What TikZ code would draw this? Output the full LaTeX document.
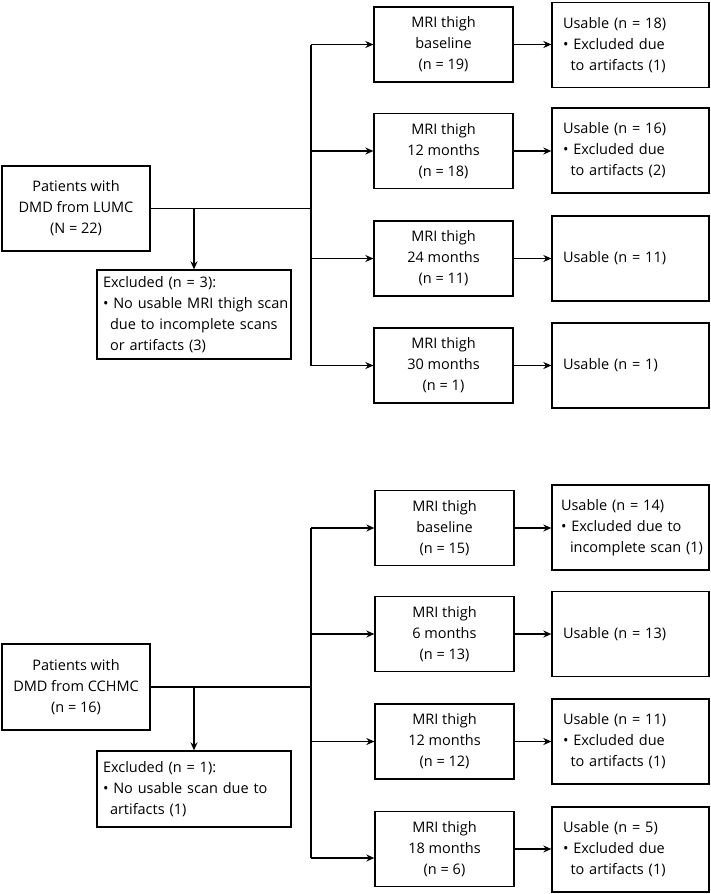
\documentclass[tikz,border=0pt]{standalone}
\usepackage{fontspec}
\setmainfont{Open Sans}
\usetikzlibrary{arrows.meta}

\begin{document}
\begin{tikzpicture}[x=1pt, y=-1pt, line width=1.3pt,
        font=\fontsize{14.5}{21}\selectfont,
        box/.style={draw, inner ysep=0pt},
        src/.style={box, align=center, minimum width=148pt, minimum height=85pt},
        mri/.style={box, align=center, minimum width=139pt, minimum height=75pt},
        use/.style={box, inner xsep=11pt, text width=135pt, align=left, minimum height=85pt},
        excl/.style={box, inner xsep=6pt, text width=182pt, align=left},
        arr/.style={-{Stealth[length=8pt, width=7pt]}}]
        \useasboundingbox (0,0) rectangle (711,894);
        % LUMC
        \node[src] (lumc) at (76,208.5) {Patients with\\DMD from LUMC\\(N = 22)};
        \node[excl, minimum height=89pt] (ex1) at (194,314.5) {Excluded (n = 3):\\\mbox{\textbullet\ No usable MRI thigh scan}\\\hspace*{7pt}due to incomplete scans\\\hspace*{7pt}or artifacts (3)};
        \node[mri] (m1) at (443.5,44.5) {MRI thigh\\baseline\\(n = 19)};
        \node[mri] (m2) at (443.5,151) {MRI thigh\\12 months\\(n = 18)};
        \node[mri] (m3) at (443.5,258.5) {MRI thigh\\24 months\\(n = 11)};
        \node[mri] (m4) at (443.5,365.5) {MRI thigh\\30 months\\(n = 1)};
        \node[use] (u1) at (630.5,45) {Usable (n = 18)\\\textbullet\ Excluded due\\\hspace*{7.5pt}to artifacts (1)};
        \node[use] (u2) at (630.5,150.5) {Usable (n = 16)\\\textbullet\ Excluded due\\\hspace*{7.5pt}to artifacts (2)};
        \node[use] (u3) at (630.5,258.5) {Usable (n = 11)};
        \node[use] (u4) at (630.5,365.5) {Usable (n = 1)};
        \coordinate (sp1) at (311,208.5);
        \draw (lumc) -- (sp1);
        \draw[arr] (lumc.east -| ex1.north) -- (ex1.north);
        \draw (sp1 |- m1.west) -- (sp1 |- m4.west);
        \draw[arr] (sp1 |- m1.west) -- (m1.west);
        \draw[arr] (sp1 |- m2.west) -- (m2.west);
        \draw[arr] (sp1 |- m3.west) -- (m3.west);
        \draw[arr] (sp1 |- m4.west) -- (m4.west);
        \draw[arr] (m1.east) -- (m1.east -| u1.west);
        \draw[arr] (m2.east) -- (m2.east -| u2.west);
        \draw[arr] (m3.east) -- (m3.east -| u3.west);
        \draw[arr] (m4.east) -- (m4.east -| u4.west);
        % CCHMC
        \node[src, minimum height=86pt] (cch) at (76,687) {Patients with\\DMD from CCHMC\\(n = 16)};
        \node[excl, minimum height=76pt] (ex2) at (194,789) {Excluded (n = 1):\\\textbullet\ No usable scan due to\\\hspace*{7pt}artifacts (1)};
        \node[mri] (m5) at (444.5,528) {MRI thigh\\baseline\\(n = 15)};
        \node[mri] (m6) at (444.5,634) {MRI thigh\\6 months\\(n = 13)};
        \node[mri] (m7) at (444.5,741.5) {MRI thigh\\12 months\\(n = 12)};
        \node[mri] (m8) at (444.5,849) {MRI thigh\\18 months\\(n = 6)};
        \node[use, inner xsep=9pt, text width=139pt] (u5) at (630.5,527.5) {Usable (n = 14)\\\textbullet\ Excluded due to\\\hspace*{9pt}\mbox{incomplete scan (1)}};
        \node[use] (u6) at (630.5,634) {Usable (n = 13)};
        \node[use] (u7) at (630.5,741.5) {Usable (n = 11)\\\textbullet\ Excluded due\\\hspace*{7.5pt}to artifacts (1)};
        \node[use] (u8) at (630.5,849.5) {Usable (n = 5)\\\textbullet\ Excluded due\\\hspace*{7.5pt}to artifacts (1)};
        \coordinate (sp2) at (311,687);
        \coordinate (sp2b) at (311,858);
        \draw (cch) -- (sp2);
        \draw[arr] (cch.east -| ex2.north) -- (ex2.north);
        \draw (sp2 |- m5.west) -- (sp2b);
        \draw[arr] (sp2 |- m5.west) -- (m5.west);
        \draw[arr] (sp2 |- m6.west) -- (m6.west);
        \draw[arr] (sp2 |- m7.west) -- (m7.west);
        \draw[arr] (sp2b) -- (sp2b -| m8.west);
        \draw[arr] (m5.east) -- (m5.east -| u5.west);
        \draw[arr] (m6.east) -- (m6.east -| u6.west);
        \draw[arr] (m7.east) -- (m7.east -| u7.west);
        \draw[arr] (m8.east) -- (m8.east -| u8.west);
    \end{tikzpicture}
\end{document}
